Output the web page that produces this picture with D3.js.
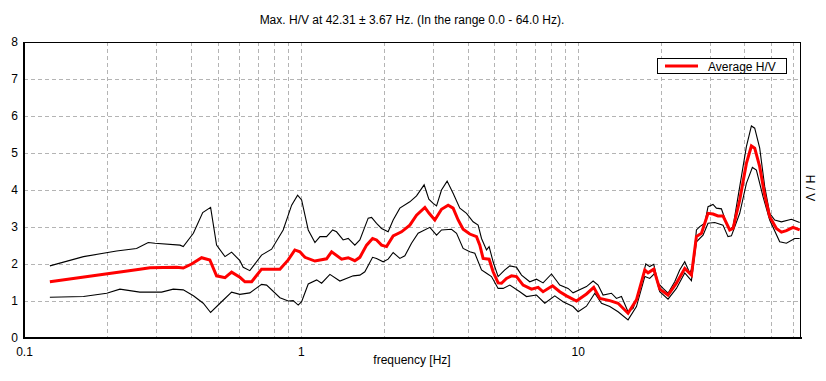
<!DOCTYPE html>
<html><head><meta charset="utf-8">
<script src="https://cdn.jsdelivr.net/npm/d3@7"></script>
<style>body{margin:0;background:#fff;} svg{display:block;} text{font-family:"Liberation Sans",Arial,sans-serif;fill:#000;}</style>
</head><body>
<svg id="c" width="826" height="381"></svg>
<script>
const titleText = "Max. H/V at 42.31 \u00b1 3.67 Hz. (In the range 0.0 - 64.0 Hz).";
const xLabel = "frequency [Hz]";
const yLabel = "H / V";
const legendLabel = "Average H/V";
const xTickLabels = [0.1, 1, 10];
const yTicks = [0,1,2,3,4,5,6,7,8];
const xGrid = [0.2,0.3,0.4,0.5,0.6,0.7,0.8,0.9,1,2,3,4,5,6,7,8,9,10,20,30,40,50,60];

// [frequency Hz, H/V]
const upperCurve = [
[0.124,1.95],[0.164,2.20],[0.216,2.35],[0.255,2.42],[0.281,2.58],[0.297,2.56],[0.366,2.51],[0.376,2.47],
[0.409,2.83],[0.442,3.39],[0.472,3.53],[0.496,2.51],[0.532,2.20],[0.562,2.32],[0.602,2.09],[0.619,1.91],
[0.654,1.82],[0.721,2.24],[0.784,2.40],[0.863,2.92],[0.926,3.59],[0.973,3.86],[1.006,3.73],[1.063,2.92],
[1.124,2.58],[1.172,2.74],[1.238,2.74],[1.302,2.92],[1.345,2.87],[1.421,2.65],[1.482,2.69],[1.566,2.51],
[1.633,2.65],[1.750,3.24],[1.800,3.26],[1.876,3.10],[1.956,2.96],[2.066,2.87],[2.154,3.19],[2.277,3.51],
[2.474,3.68],[2.616,3.84],[2.787,4.14],[2.898,3.75],[3.004,3.64],[3.090,3.57],[3.220,4.00],[3.374,4.24],
[3.546,3.91],[3.750,3.51],[3.965,3.37],[4.188,3.14],[4.366,3.05],[4.491,2.69],[4.682,2.38],[4.784,2.47],
[4.946,2.06],[5.156,1.66],[5.452,1.84],[5.683,1.95],[6.008,1.91],[6.264,1.70],[6.709,1.52],[7.093,1.59],
[7.493,1.49],[8.038,1.73],[8.610,1.43],[9.226,1.34],[9.616,1.22],[10.75,1.39],[11.36,1.54],[11.84,1.43],
[12.34,1.16],[13.23,1.21],[13.79,1.07],[14.38,1.12],[15.19,0.71],[15.84,0.80],[16.74,1.30],[17.60,2.00],
[18.19,1.93],[18.81,1.99],[19.50,1.48],[20.33,1.34],[21.18,1.21],[22.39,1.52],[23.34,1.84],[24.34,2.06],
[25.37,1.76],[26.08,1.93],[26.82,2.92],[27.57,3.01],[28.74,3.10],[29.54,3.55],[30.79,3.61],[31.67,3.51],
[33.02,3.49],[34.42,3.10],[35.38,2.92],[36.37,3.01],[38.45,4.09],[40.64,5.17],[42.37,5.73],[43.55,5.67],
[45.40,5.13],[47.33,4.09],[49.33,3.37],[51.43,3.19],[54.38,3.14],[59.09,3.21],[63.30,3.12]
];
const averageCurve = [
[0.124,1.52],[0.262,1.86],[0.285,1.90],[0.356,1.91],[0.376,1.89],[0.403,2.00],[0.438,2.17],[0.469,2.11],
[0.496,1.68],[0.532,1.63],[0.562,1.78],[0.602,1.64],[0.628,1.52],[0.664,1.52],[0.721,1.86],[0.840,1.86],
[0.900,2.11],[0.951,2.38],[0.992,2.33],[1.034,2.18],[1.124,2.08],[1.238,2.14],[1.291,2.33],[1.403,2.13],
[1.482,2.17],[1.566,2.09],[1.633,2.18],[1.727,2.51],[1.815,2.69],[1.876,2.65],[1.956,2.51],[2.039,2.47],
[2.154,2.76],[2.309,2.87],[2.474,3.05],[2.616,3.32],[2.804,3.53],[2.905,3.37],[3.046,3.19],[3.220,3.48],
[3.402,3.59],[3.546,3.51],[3.698,3.19],[3.854,2.94],[4.074,2.81],[4.308,2.74],[4.428,2.51],[4.551,2.15],
[4.784,2.13],[4.946,1.79],[5.156,1.49],[5.303,1.48],[5.527,1.61],[5.762,1.68],[6.008,1.66],[6.346,1.43],
[6.806,1.32],[7.190,1.37],[7.493,1.25],[8.105,1.41],[8.610,1.25],[9.105,1.14],[9.892,1.00],[10.75,1.19],
[11.42,1.37],[12.01,1.07],[13.05,1.01],[13.98,0.94],[15.19,0.67],[16.29,1.03],[17.46,1.84],[17.94,1.76],
[18.81,1.86],[19.77,1.32],[21.18,1.16],[22.71,1.48],[24.34,1.88],[25.73,1.70],[26.82,2.74],[27.97,2.83],
[29.54,3.37],[30.79,3.35],[32.10,3.30],[33.45,3.30],[35.38,2.92],[36.37,2.96],[38.45,3.73],[40.64,4.72],
[42.37,5.19],[43.55,5.13],[45.40,4.63],[47.33,3.86],[49.33,3.28],[52.16,2.96],[54.38,2.86],[56.68,2.90],
[59.88,2.99],[63.30,2.92]
];
const lowerCurve = [
[0.124,1.10],[0.164,1.12],[0.199,1.21],[0.222,1.32],[0.262,1.24],[0.314,1.24],[0.346,1.32],[0.376,1.30],
[0.409,1.14],[0.444,0.94],[0.472,0.69],[0.517,0.98],[0.562,1.24],[0.602,1.18],[0.654,1.22],[0.721,1.45],
[0.752,1.43],[0.840,1.09],[0.900,1.00],[0.938,1.01],[0.978,0.89],[1.006,0.98],[1.063,1.46],[1.140,1.57],
[1.188,1.48],[1.273,1.72],[1.383,1.54],[1.545,1.68],[1.633,1.70],[1.702,1.79],[1.815,2.18],[1.876,2.15],
[1.982,2.06],[2.066,2.13],[2.154,2.31],[2.277,2.15],[2.374,2.22],[2.509,2.56],[2.651,2.83],[2.923,2.99],
[3.090,2.78],[3.220,2.92],[3.499,2.94],[3.649,2.83],[3.854,2.42],[4.074,2.33],[4.248,2.29],[4.491,1.84],
[4.682,1.75],[4.880,1.66],[5.156,1.34],[5.375,1.34],[5.683,1.43],[6.175,1.25],[6.529,1.12],[7.093,1.16],
[7.601,0.94],[8.260,1.14],[8.849,0.98],[9.616,0.85],[10.03,0.71],[10.75,0.86],[11.52,1.21],[12.18,0.94],
[13.05,0.85],[13.98,0.71],[15.19,0.49],[16.29,0.85],[17.46,1.66],[18.19,1.61],[18.97,1.75],[19.77,1.25],
[21.18,1.05],[22.71,1.34],[24.34,1.76],[25.73,1.55],[26.82,2.60],[28.34,2.78],[29.54,3.10],[31.23,3.12],
[33.45,3.05],[34.88,2.74],[35.88,2.76],[38.45,3.37],[40.64,4.18],[42.72,4.61],[44.17,4.54],[46.67,3.82],
[49.33,3.19],[53.61,2.60],[56.68,2.56],[60.73,2.69],[63.30,2.69]
];

const svg = d3.select("#c");
const L = 24, R = 801, T = 42, B = 338;
const x = d3.scaleLog().domain([0.1, 64]).range([L, R]);
const y = d3.scaleLinear().domain([0, 8]).range([B, T]);

svg.append("defs").append("clipPath").attr("id","clip")
  .append("rect").attr("x",L).attr("y",T).attr("width",R-L).attr("height",B-T);

// grid
const g = svg.append("g");
g.selectAll(".vg").data(xGrid).join("line")
  .attr("x1",d=>Math.round(x(d))+0.5).attr("x2",d=>Math.round(x(d))+0.5)
  .attr("y1",T).attr("y2",B)
  .attr("stroke","#b4b4b4").attr("stroke-dasharray","4,3");
g.selectAll(".hg").data(yTicks.filter(d=>d>0&&d<8)).join("line")
  .attr("x1",L).attr("x2",R)
  .attr("y1",d=>Math.round(y(d))+0.5).attr("y2",d=>Math.round(y(d))+0.5)
  .attr("stroke","#b4b4b4").attr("stroke-dasharray","4,3");

// curves
const line = d3.line().x(d=>x(d[0])).y(d=>y(d[1]));
const cg = svg.append("g").attr("clip-path","url(#clip)");
cg.append("path").datum(upperCurve).attr("d",line).attr("fill","none").attr("stroke","#000").attr("stroke-width",1.1);
cg.append("path").datum(lowerCurve).attr("d",line).attr("fill","none").attr("stroke","#000").attr("stroke-width",1.1);
cg.append("path").datum(averageCurve).attr("d",line).attr("fill","none").attr("stroke","#ff0000").attr("stroke-width",3);

// frame
svg.append("rect").attr("x",L+0.5).attr("y",T+0.5).attr("width",R-L-1).attr("height",B-T-1)
  .attr("fill","none").attr("stroke","#000").attr("stroke-width",1);
svg.append("line").attr("x1",L).attr("x2",L).attr("y1",T).attr("y2",B+1).attr("stroke","#000").attr("stroke-width",2);
svg.append("line").attr("x1",L-1).attr("x2",R+1).attr("y1",B).attr("y2",B).attr("stroke","#000").attr("stroke-width",2);

// axes via d3 (ticks text only)
const xAxis = d3.axisBottom(x).tickValues(xTickLabels).tickFormat(d3.format("")).tickSize(0).tickPadding(9);
const xa = svg.append("g").attr("transform",`translate(0,${B})`).call(xAxis);
xa.select(".domain").remove();
xa.selectAll("text").attr("font-size","12px").attr("font-family","Liberation Sans, Arial, sans-serif").attr("fill","#000");

const yAxis = d3.axisLeft(y).tickValues(yTicks).tickFormat(d3.format("d")).tickSize(0).tickPadding(6);
const ya = svg.append("g").attr("transform",`translate(${L},0)`).call(yAxis);
ya.select(".domain").remove();
ya.selectAll("text").attr("font-size","12px").attr("font-family","Liberation Sans, Arial, sans-serif").attr("fill","#000");

// title & labels
svg.append("text").attr("x",412).attr("y",24).attr("text-anchor","middle").attr("font-size","12px").text(titleText);
svg.append("text").attr("x",412).attr("y",364).attr("text-anchor","middle").attr("font-size","12px").text(xLabel);
svg.append("text").attr("transform","translate(806,188) rotate(90)").attr("text-anchor","middle").attr("font-size","12px").text(yLabel);

// legend
svg.append("rect").attr("x",657.5).attr("y",58.5).attr("width",129).attr("height",15).attr("fill","#fff").attr("stroke","#000");
svg.append("line").attr("x1",665).attr("x2",698).attr("y1",66).attr("y2",66).attr("stroke","#ff0000").attr("stroke-width",3);
svg.append("text").attr("x",708).attr("y",70.5).attr("font-size","12px").text(legendLabel);
</script>
</body></html>
